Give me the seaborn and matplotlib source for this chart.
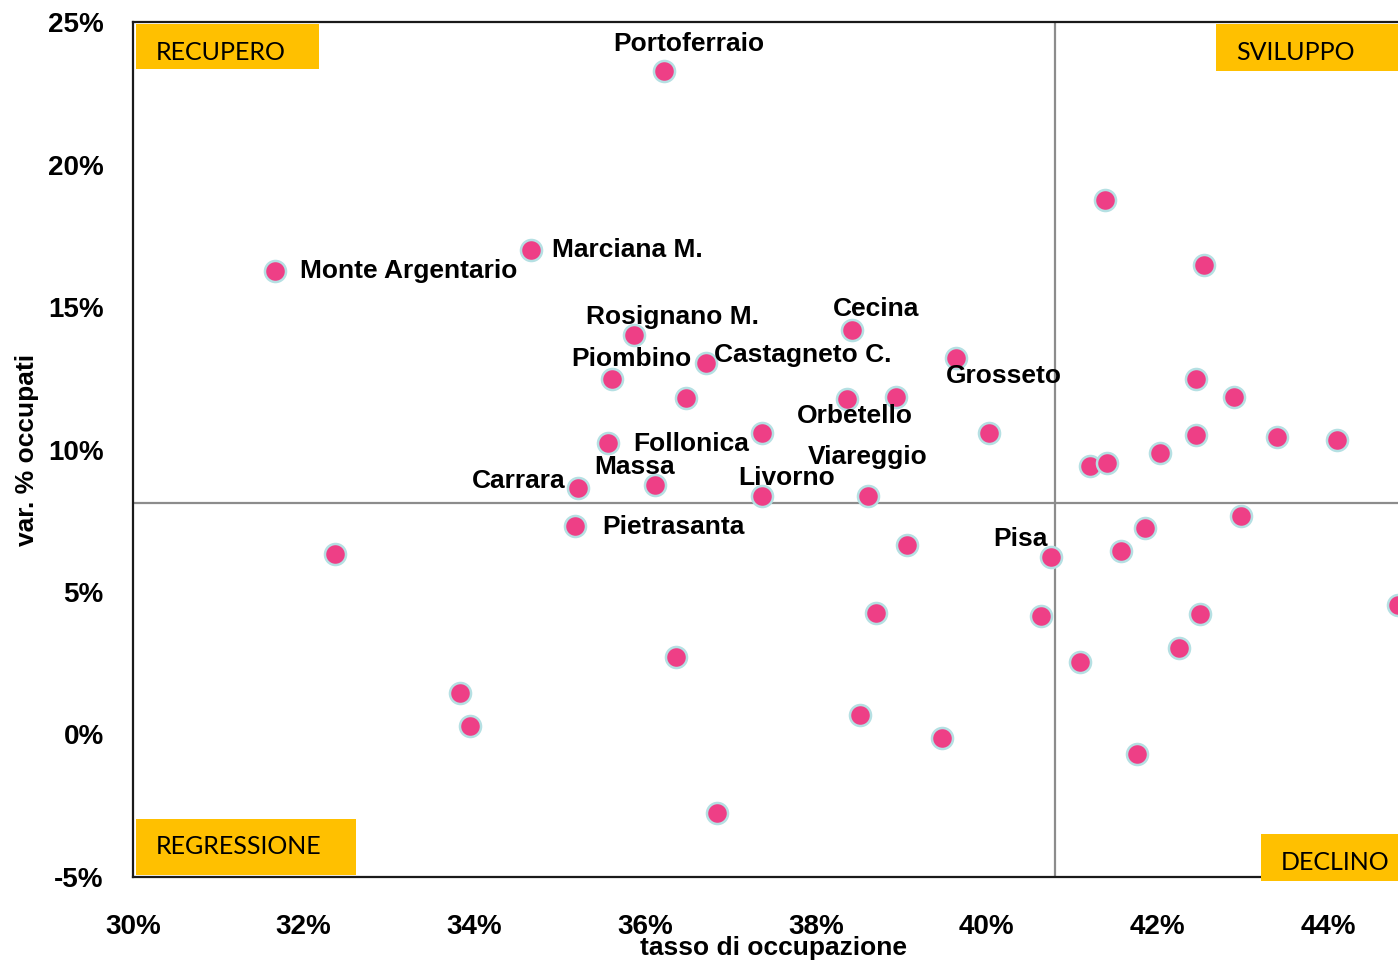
import numpy as np
import matplotlib
matplotlib.use("Agg")
import matplotlib.pyplot as plt
from matplotlib.patches import Rectangle
from matplotlib.ticker import FuncFormatter
import seaborn as sns

# tasso di occupazione (%) and var. % occupati (%) per comune
tasso = [36.22, 41.39, 42.55, 34.66, 31.66, 35.87, 38.42, 36.71, 39.64, 35.61,
         36.48, 38.36, 38.94, 40.03, 37.37, 35.56, 36.12, 35.21, 37.37, 38.61,
         35.18, 32.37, 39.07, 40.75, 38.70, 40.64, 36.36, 41.09, 33.83, 33.95,
         38.52, 39.48, 36.84, 41.76, 42.25, 42.50, 41.57, 41.86, 42.98, 41.21,
         41.41, 42.03, 42.45, 42.45, 42.90, 43.40, 44.10, 44.82]
var_occ = [23.28, 18.75, 16.47, 17.00, 16.26, 14.02, 14.19, 13.04, 13.21, 12.47,
           11.81, 11.77, 11.84, 10.58, 10.58, 10.23, 8.75, 8.65, 8.37, 8.37,
           7.32, 6.33, 6.65, 6.23, 4.26, 4.16, 2.72, 2.54, 1.46, 0.30,
           0.68, -0.12, -2.75, -0.68, 3.04, 4.23, 6.44, 7.25, 7.67, 9.42,
           9.53, 9.88, 10.51, 12.47, 11.84, 10.44, 10.33, 4.54]
nomi = ["Portoferraio", "", "", "Marciana M.", "Monte Argentario", "Rosignano M.",
        "Cecina", "Castagneto C.", "Grosseto", "Piombino", "", "Orbetello", "", "",
        "", "Follonica", "Massa", "Carrara", "Livorno", "Viareggio", "Pietrasanta",
        "", "", "Pisa"] + [""] * 24

media_tasso = 40.80
media_var = 8.12

x_ticks = [30, 32, 34, 36, 38, 40, 42, 44]
y_ticks = [-5, 0, 5, 10, 15, 20, 25]

# label offsets in pixels (dx right, dy up) relative to the point
offsets = {
    "Portoferraio": (25, 27), "Marciana M.": (97, 0), "Monte Argentario": (134, 0),
    "Rosignano M.": (38, 18), "Cecina": (24, 21), "Castagneto C.": (97, 8),
    "Piombino": (20, 20), "Grosseto": (48, -18), "Orbetello": (8, -17),
    "Follonica": (84, -1), "Massa": (-21, 18), "Carrara": (-59, 7),
    "Livorno": (25, 18), "Viareggio": (0, 39), "Pietrasanta": (98, -1),
    "Pisa": (-30, 18),
}

sns.set_style("white")
narrow = ["Liberation Sans Narrow", "Liberation Sans", "DejaVu Sans"]
plt.rcParams["font.family"] = narrow
for k in ["text.color", "axes.labelcolor", "xtick.color", "ytick.color"]:
    plt.rcParams[k] = "black"

W, H = 1398, 969
fig = plt.figure(figsize=(W / 100, H / 100), dpi=100)
ax = fig.add_axes([133 / W, 1 - 877 / H, (W - 133) / W, (877 - 22) / H])

ax.axvline(media_tasso, color="#8c8c8c", lw=1.6, zorder=1)
ax.axhline(media_var, color="#8c8c8c", lw=1.6, zorder=1)

sns.scatterplot(x=tasso, y=var_occ, ax=ax, s=230, color="#EE3F86",
                edgecolor="#B5E0E3", linewidth=1.8, zorder=3, legend=False)

for x, y, n in zip(tasso, var_occ, nomi):
    if not n:
        continue
    dx, dy = offsets[n]
    ax.annotate(n, xy=(x, y), xytext=(dx * 0.72, dy * 0.72), textcoords="offset points",
                ha="center", va="center", fontsize=19, fontweight="bold", color="black",
                zorder=4)

ax.set_xlim(30, 44.82)
ax.set_ylim(-5, 25)
ax.set_xticks(x_ticks)
ax.set_yticks(y_ticks)
ax.xaxis.set_major_formatter(FuncFormatter(lambda v, p: f"{v:.0f}%"))
ax.yaxis.set_major_formatter(FuncFormatter(lambda v, p: f"{v:.0f}%"))
ax.tick_params(axis="both", length=0, labelsize=20)
ax.tick_params(axis="x", pad=27)
ax.tick_params(axis="y", pad=21)
for lab in ax.get_xticklabels() + ax.get_yticklabels():
    lab.set_fontweight("bold")

for side in ["left", "top", "bottom"]:
    ax.spines[side].set_color("#1a1a1a")
    ax.spines[side].set_linewidth(1.6)
ax.spines["right"].set_visible(False)

fig.text(773 / W, 1 - 948 / H, "tasso di occupazione", ha="center", va="center",
         fontsize=19, fontweight="bold")
fig.text(27 / W, 1 - 450 / H, "var. % occupati", ha="center", va="center",
         rotation=90, fontsize=19, fontweight="bold")

# quadrant tags (pixel boxes: x0, y0, x1, y1, text left, text center y)
quadranti = [
    ("RECUPERO", 136, 24, 319, 69, 156, 52),
    ("SVILUPPO", 1216, 24, 1398, 71, 1236, 52),
    ("REGRESSIONE", 136, 819, 356, 875, 156, 847),
    ("DECLINO", 1261, 834, 1398, 881, 1281, 862),
]
for txt, x0, y0, x1, y1, tx, ty in quadranti:
    fig.patches.append(Rectangle((x0 / W, 1 - y1 / H), (x1 - x0) / W, (y1 - y0) / H,
                                 transform=fig.transFigure, facecolor="#FFC000",
                                 edgecolor="none", zorder=5))
    fig.text(tx / W, 1 - ty / H, txt, ha="left", va="center", fontsize=18,
             family=["Lato", "DejaVu Sans"], color="black", zorder=6)

fig.savefig("out.png", dpi=100)
